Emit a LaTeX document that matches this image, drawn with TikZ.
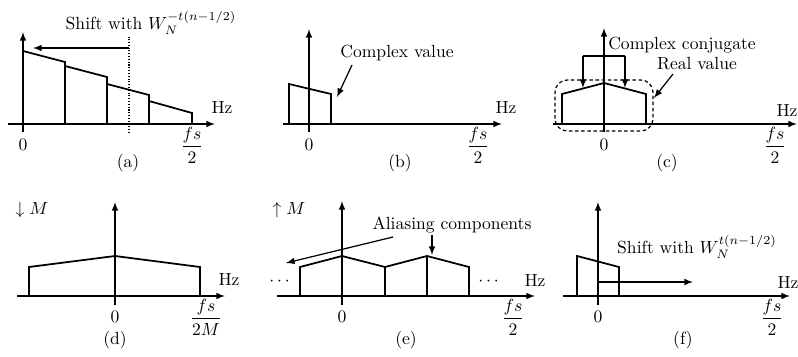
\documentclass[tikz,border=0pt]{standalone}
\usepackage{amsmath}
\begin{document}
\begin{tikzpicture}[x=0.02cm,y=0.02cm,>=latex,line width=0.7pt]
\tikzset{spec/.style={line width=1pt}, lbl/.style={inner sep=1pt}}
\useasboundingbox (0,0) rectangle (798,356);

% grafico (a)
\begin{scope}[shift={(23,232)}]
\draw[->] (-15,0) -- (192,0);
\draw[->] (0,-8) -- (0,92);
\draw[spec] (0,0) -- (0,73) -- (42,62) -- (42,0);
\draw[spec] (42,58) -- (84,47) -- (84,0);
\draw[spec] (84,40) -- (126,29) -- (126,0);
\draw[spec] (126,23) -- (169,11) -- (169,0);
\draw[densely dotted, line width=0.6pt] (106,-9) -- (106,87);
\coordinate (a-from) at (106,76);
\coordinate (a-to) at (10,76);
\draw[->] (a-from) -- (a-to);
\node[lbl] (a-shift) at (128,101) {Shift with $W_N^{-t(n-1/2)}$};
\node[lbl] (a-hz) at (199,17) {Hz};
\node[lbl] (a-zero) at (0,-21) {$0$};
\node[lbl] (a-fs) at (169,-21) {$\displaystyle\frac{fs}{2}$};
\node[lbl] (a-cap) at (105,-39) {(a)};
\end{scope}

% grafico (b)
\begin{scope}[shift={(309,232)}]
\draw[->] (-26,0) -- (193,0);
\draw[->] (0,-8) -- (0,95);
\draw[spec] (-20,0) -- (-20,40) -- (22,30) -- (22,0);
\node[lbl] (b-val) at (88,71) {Complex value};
\coordinate (b-from) at (43,59);
\coordinate (b-to) at (28,27);
\draw[->] (b-from) -- (b-to);
\node[lbl] (b-hz) at (197,17) {Hz};
\node[lbl] (b-zero) at (0,-21) {$0$};
\node[lbl] (b-fs) at (169,-21) {$\displaystyle\frac{fs}{2}$};
\node[lbl] (b-cap) at (91,-39) {(b)};
\end{scope}

% grafico (c)
\begin{scope}[shift={(604,232)}]
\draw[->] (-51,0) -- (193,0);
\draw[->] (0,-8) -- (0,96);
\draw[spec] (-42,0) -- (-42,30) -- (0,41) -- (42,30) -- (42,0);
\draw[dash pattern=on 2pt off 1.5pt, rounded corners=7] (-49,-7) rectangle (49,44);
\coordinate (c-left) at (-21,68);
\coordinate (c-right) at (21,68);
\coordinate (c-lto) at (-21,36);
\coordinate (c-rto) at (21,36);
\draw (c-left) -- (c-right);
\draw[->] (c-left) -- (c-lto);
\draw[->] (c-right) -- (c-rto);
\node[lbl] (c-conj) at (78,79) {Complex conjugate};
\node[lbl] (c-real) at (93,60) {Real value};
\coordinate (c-from) at (69,50);
\coordinate (c-to) at (50,26);
\draw[->] (c-from) -- (c-to);
\node[lbl] (c-hz) at (183,14) {Hz};
\node[lbl] (c-zero) at (0,-21) {$0$};
\node[lbl] (c-fs) at (171,-21) {$\displaystyle\frac{fs}{2}$};
\node[lbl] (c-cap) at (63,-39) {(c)};
\end{scope}

% grafico (d)
\begin{scope}[shift={(115,60)}]
\draw[->] (-98,0) -- (110,0);
\draw[->] (0,-9) -- (0,94);
\draw[spec] (-86,0) -- (-86,29) -- (0,40) -- (85,29) -- (85,0);
\node[lbl] (d-down) at (-83,86) {$\downarrow M$};
\node[lbl] (d-hz) at (114,17) {Hz};
\node[lbl] (d-zero) at (0,-21) {$0$};
\node[lbl] (d-fs) at (91,-21) {$\displaystyle\frac{fs}{2M}$};
\node[lbl] (d-cap) at (0,-44) {(d)};
\end{scope}

% grafico (e)
\begin{scope}[shift={(342,60)}]
\draw[->] (-65,0) -- (193,0);
\draw[->] (0,-9) -- (0,95);
\draw[spec] (-42,0) -- (-42,29) -- (0,40) -- (43,29) -- (85,40) -- (127,29) -- (127,0);
\draw[spec] (43,0) -- (43,29);
\draw[spec] (85,0) -- (85,40);
\node[lbl] (e-up) at (-53,86) {$\uparrow M$};
\node[lbl] (e-alias) at (110,71) {Aliasing components};
\coordinate (e-from) at (51,59);
\coordinate (e-to) at (-56,33);
\draw[->] (e-from) -- (e-to);
\coordinate (e-top) at (90,61);
\coordinate (e-peak) at (90,41);
\draw[->] (e-top) -- (e-peak);
\node[lbl] (e-ldots) at (-61,14) {$\cdots$};
\node[lbl] (e-rdots) at (148,14) {$\cdots$};
\node[lbl] (e-hz) at (193,16) {Hz};
\node[lbl] (e-zero) at (0,-21) {$0$};
\node[lbl] (e-fs) at (171,-21) {$\displaystyle\frac{fs}{2}$};
\node[lbl] (e-cap) at (64,-44) {(e)};
\end{scope}

% grafico (f)
\begin{scope}[shift={(598,60)}]
\draw[->] (-35,0) -- (192,0);
\draw[->] (0,-9) -- (0,94);
\draw[spec] (-21,0) -- (-21,40) -- (21,29) -- (21,0);
\coordinate (f-from) at (0,14);
\coordinate (f-to) at (95,14);
\draw[->] (f-from) -- (f-to);
\node[lbl] (f-shift) at (99,49) {Shift with $W_N^{t(n-1/2)}$};
\node[lbl] (f-hz) at (190,14) {Hz};
\node[lbl] (f-zero) at (0,-21) {$0$};
\node[lbl] (f-fs) at (174,-21) {$\displaystyle\frac{fs}{2}$};
\node[lbl] (f-cap) at (85,-44) {(f)};
\end{scope}

\end{tikzpicture}
\end{document}
